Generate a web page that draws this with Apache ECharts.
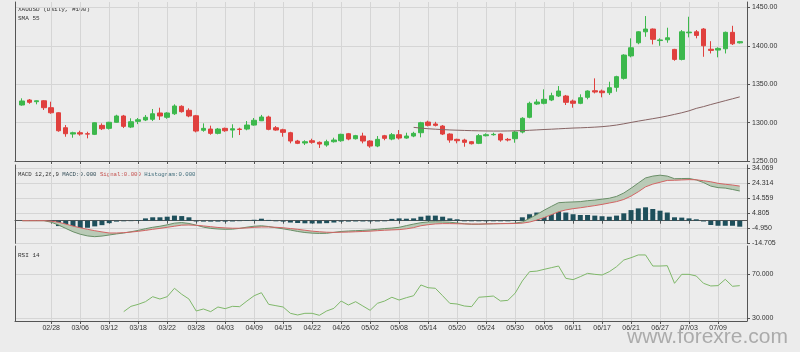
<!DOCTYPE html>
<html>
<head>
<meta charset="utf-8">
<script src="https://cdn.jsdelivr.net/npm/echarts@6/dist/echarts.min.js"></script>
<style>
  html, body { margin: 0; padding: 0; background: #ececec; }
  #chart { width: 800px; height: 352px; }
</style>
</head>
<body>
<div id="chart"></div>
<script>
// trading days, XAUUSD daily
const dates = [
  '02/22','02/25','02/26','02/27','02/28',
  '03/01','03/04','03/05','03/06','03/07','03/08','03/11','03/12','03/13','03/14','03/15',
  '03/18','03/19','03/20','03/21','03/22','03/25','03/26','03/27','03/28','03/29',
  '04/01','04/02','04/03','04/04','04/05','04/08','04/09','04/10','04/11','04/12',
  '04/15','04/16','04/17','04/18','04/22','04/23','04/24','04/25','04/26','04/29','04/30',
  '05/01','05/02','05/03','05/06','05/07','05/08','05/09','05/10','05/13','05/14','05/15',
  '05/16','05/17','05/20','05/21','05/22','05/23','05/24','05/27','05/28','05/29','05/30','05/31',
  '06/03','06/04','06/05','06/06','06/07','06/10','06/11','06/12','06/13','06/14',
  '06/17','06/18','06/19','06/20','06/21','06/24','06/25','06/26','06/27','06/28',
  '07/01','07/02','07/03','07/04','07/05','07/08','07/09','07/10','07/11','07/12'
];

const opens = [
  1322.9, 1329.4, 1327.2, 1328.4, 1319.4, 1312.8, 1293.3, 1285.1, 1286.8, 1285.5,
  1284.7, 1296.4, 1292.5, 1300.4, 1308.6, 1294.2, 1301.6, 1303.4, 1304.3, 1312.5,
  1306.9, 1311.5, 1321.2, 1316.0, 1308.9, 1290.0, 1291.6, 1286.0, 1292.5, 1290.3,
  1291.6, 1291.6, 1296.8, 1302.4, 1307.3, 1293.3, 1290.7, 1286.8, 1276.0, 1273.4,
  1276.4, 1274.3, 1270.8, 1275.1, 1276.4, 1285.5, 1279.0, 1282.5, 1276.0, 1269.5,
  1282.9, 1278.6, 1284.2, 1279.9, 1282.5, 1286.8, 1300.7, 1298.2, 1295.5, 1285.1,
  1278.2, 1277.3, 1275.1, 1273.0, 1282.9, 1284.2, 1285.1, 1278.2, 1279.0, 1287.7,
  1306.9, 1324.2, 1325.1, 1329.4, 1334.6, 1334.6, 1328.1, 1325.1, 1332.9, 1341.5,
  1341.1, 1338.9, 1345.9, 1357.6, 1386.8, 1403.9, 1418.2, 1421.8, 1406.8, 1407.8,
  1395.3, 1382.3, 1416.9, 1418.2, 1421.8, 1395.5, 1394.4, 1396.1, 1417.5, 1403.8
];
const closes = [
  1328.1, 1326.4, 1328.4, 1319.4, 1312.8, 1289.4, 1285.5, 1286.8, 1285.1, 1285.0,
  1299.8, 1292.0, 1300.4, 1308.6, 1295.1, 1301.1, 1303.7, 1306.9, 1311.5, 1308.6,
  1312.5, 1321.6, 1314.2, 1308.6, 1289.0, 1292.5, 1286.0, 1291.6, 1289.4, 1292.0,
  1291.0, 1296.8, 1303.0, 1307.3, 1291.2, 1290.3, 1287.3, 1276.0, 1273.0, 1275.1,
  1274.3, 1272.1, 1275.1, 1277.3, 1284.7, 1278.6, 1283.0, 1276.0, 1269.5, 1278.2,
  1279.5, 1284.2, 1279.9, 1282.5, 1286.0, 1299.8, 1296.4, 1296.4, 1285.1, 1277.3,
  1276.4, 1274.3, 1272.5, 1283.0, 1284.2, 1284.7, 1277.3, 1277.3, 1287.7, 1305.6,
  1325.1, 1326.8, 1330.3, 1335.0, 1341.1, 1326.4, 1325.1, 1332.4, 1341.1, 1339.8,
  1338.9, 1345.4, 1359.8, 1387.9, 1397.4, 1418.2, 1421.8, 1408.4, 1407.6, 1410.4,
  1382.3, 1418.2, 1417.8, 1413.5, 1400.0, 1394.0, 1396.6, 1417.5, 1402.6, 1405.35
];
const lows = [
  1322.0, 1324.5, 1323.8, 1316.4, 1311.5, 1288.1, 1281.6, 1280.3, 1283.0, 1279.5,
  1283.8, 1290.3, 1291.0, 1300.0, 1292.9, 1292.9, 1298.0, 1302.0, 1302.0, 1303.4,
  1305.0, 1310.0, 1313.0, 1307.0, 1287.3, 1288.1, 1284.2, 1284.7, 1288.0, 1280.3,
  1283.8, 1290.0, 1296.0, 1302.0, 1290.0, 1289.4, 1281.6, 1273.0, 1272.0, 1270.8,
  1272.5, 1267.0, 1268.6, 1274.0, 1275.0, 1277.0, 1278.0, 1273.0, 1267.3, 1268.0,
  1277.0, 1277.0, 1278.0, 1279.0, 1281.0, 1280.8, 1295.0, 1295.0, 1283.8, 1273.8,
  1273.0, 1268.6, 1271.5, 1272.0, 1282.0, 1283.0, 1275.1, 1275.5, 1273.8, 1286.0,
  1305.6, 1323.0, 1323.8, 1328.0, 1333.3, 1322.9, 1319.4, 1324.0, 1330.3, 1338.0,
  1332.9, 1336.0, 1340.2, 1356.0, 1385.0, 1402.0, 1411.7, 1401.8, 1400.0, 1404.0,
  1380.5, 1381.0, 1411.0, 1409.7, 1385.7, 1390.0, 1385.0, 1390.0, 1401.0, 1403.0
];
const highs = [
  1331.6, 1330.7, 1329.0, 1329.2, 1327.2, 1313.5, 1296.8, 1288.1, 1289.4, 1288.1,
  1300.3, 1299.0, 1301.0, 1310.2, 1310.0, 1305.6, 1306.0, 1309.9, 1317.7, 1319.4,
  1313.5, 1323.8, 1322.5, 1318.6, 1310.0, 1299.0, 1296.0, 1293.0, 1293.5, 1297.8,
  1293.3, 1302.0, 1306.0, 1310.0, 1309.0, 1295.5, 1292.0, 1288.0, 1277.5, 1277.0,
  1279.0, 1275.5, 1277.7, 1280.3, 1285.5, 1286.5, 1284.0, 1286.8, 1277.0, 1282.5,
  1284.0, 1286.4, 1290.3, 1286.8, 1288.0, 1301.0, 1302.5, 1301.0, 1296.8, 1286.0,
  1279.0, 1279.0, 1276.0, 1285.1, 1286.0, 1286.8, 1286.0, 1280.0, 1289.0, 1307.0,
  1327.2, 1330.3, 1343.3, 1338.9, 1347.6, 1336.0, 1330.0, 1336.8, 1342.0, 1357.6,
  1343.0, 1353.2, 1361.0, 1389.0, 1409.7, 1419.0, 1438.7, 1422.5, 1409.7, 1423.5,
  1396.0, 1420.5, 1437.8, 1420.5, 1423.0, 1406.0, 1398.0, 1418.5, 1426.0, 1406.0
];

// SMA 55, first value on bar 54
const sma55 = [
  '-','-','-','-','-','-','-','-','-','-','-','-','-','-','-','-','-','-','-','-',
  '-','-','-','-','-','-','-','-','-','-','-','-','-','-','-','-','-','-','-','-',
  '-','-','-','-','-','-','-','-','-','-','-','-','-','-',
  1293.8, 1292.8, 1292.0, 1291.4, 1290.9, 1290.4, 1290.1, 1289.8, 1289.5, 1289.3,
  1289.1, 1289.0, 1289.0, 1289.1, 1289.3, 1289.6, 1290.0, 1290.5, 1291.0, 1291.4,
  1291.9, 1292.4, 1292.9, 1293.2, 1293.6, 1294.1, 1294.7, 1295.6, 1296.8, 1298.4,
  1300.2, 1301.9, 1303.5, 1305.1, 1306.7, 1308.6, 1310.7, 1312.8, 1315.3, 1318.5,
  1320.8, 1323.5, 1326.0, 1328.5, 1331.0, 1333.5
];

const macdLine = [
  0, 0, 0, 0, -1.0, -2.8, -5.0, -7.2, -8.8, -9.9,
  -10.4, -10.0, -9.3, -8.6, -8.0, -7.2, -6.3, -5.2, -4.3, -3.6,
  -2.7, -1.6, -1.2, -1.8, -2.9, -4.2, -5.0, -5.4, -5.6, -5.5,
  -5.0, -4.2, -3.6, -3.3, -3.8, -4.6, -5.3, -6.1, -7.0, -7.7,
  -8.1, -8.3, -8.2, -7.6, -7.0, -6.7, -6.5, -6.3, -6.0, -5.6,
  -5.1, -4.8, -4.3, -3.2, -2.2, -1.3, -0.8, -0.7, -0.8, -1.0,
  -1.5, -2.0, -2.3, -2.3, -2.1, -2.0, -1.9, -1.8, -1.6, -0.8,
  1.5, 4.0, 6.8, 9.3, 11.7, 12.0, 12.2, 12.4, 13.0, 13.4,
  14.0, 14.6, 15.8, 18.0, 21.1, 24.5, 27.8, 29.0, 29.6, 29.0,
  27.3, 27.4, 27.5, 26.5, 24.8, 22.5, 21.5, 21.2, 20.3, 19.3
];
const signalLine = [
  0, 0, 0, 0, -0.3, -1.0, -2.2, -3.5, -4.6, -5.6,
  -6.5, -7.3, -8.0, -8.0, -7.8, -7.4, -6.9, -6.3, -5.6, -5.0,
  -4.3, -3.6, -2.9, -2.8, -3.0, -3.4, -3.9, -4.4, -4.7, -4.9,
  -4.9, -4.7, -4.3, -4.1, -4.1, -4.3, -4.6, -5.1, -5.6, -6.2,
  -6.8, -7.2, -7.5, -7.6, -7.5, -7.4, -7.2, -7.0, -6.8, -6.5,
  -6.2, -6.0, -5.8, -5.3, -4.5, -3.3, -2.6, -2.1, -1.9, -1.9,
  -2.0, -2.1, -2.2, -2.2, -2.1, -2.0, -1.9, -1.9, -1.8, -1.6,
  -0.9, 0.4, 2.0, 3.9, 5.8, 7.0, 7.8, 8.4, 9.1, 9.8,
  10.6, 11.5, 12.4, 13.8, 16.0, 18.8, 22.0, 23.8, 25.0, 26.2,
  26.3, 26.5, 26.7, 26.6, 26.0, 25.3, 24.3, 23.7, 23.2, 22.5
];
const histogram = [
  0, 0, 0, 0, -0.8, -3.5, -4.3, -5.0, -5.0, -4.6,
  -3.7, -2.9, -1.6, -0.6, -0.4, -0.3, 0.4, 1.5, 2.2, 2.2,
  2.6, 3.3, 3.0, 2.2, -0.5, -0.6, -0.6, -0.6, -0.6, -0.5,
  -0.3, 0.3, 0.6, 1.3, 0.5, -0.4, -0.6, -1.2, -1.5, -1.7,
  -1.8, -1.8, -1.6, -1.2, -0.6, -0.6, -0.5, -0.5, -0.5, -0.5,
  -0.4, 1.2, 1.5, 1.3, 1.5, 2.6, 3.3, 3.3, 2.6, 1.5,
  0.9, -0.4, -0.4, -0.4, -0.4, -0.4, -0.4, -0.4, 0.4, 2.2,
  4.2, 5.3, 5.9, 6.3, 6.5, 5.3, 4.2, 3.7, 3.7, 3.3,
  2.9, 2.6, 3.3, 4.8, 6.9, 8.0, 8.7, 7.6, 6.5, 5.3,
  2.2, 2.0, 1.5, 0.9, -0.5, -2.8, -3.3, -3.3, -3.3, -3.9
];

// RSI 14, first value on bar 14
const rsi14 = [
  '-','-','-','-','-','-','-','-','-','-','-','-','-','-',
  36.0, 40.8, 42.6, 45.0, 49.5, 47.4, 49.5, 57.1, 51.7, 47.4,
  36.6, 38.4, 36.0, 40.2, 38.7, 40.8, 40.5, 45.6, 50.4, 53.1,
  42.6, 41.4, 40.2, 34.5, 33.0, 34.5, 34.5, 32.7, 36.6, 39.0,
  45.6, 42.0, 45.0, 41.1, 37.2, 43.5, 45.6, 49.0, 46.5, 48.6,
  50.4, 60.1, 57.6, 57.1, 50.4, 43.5, 42.9, 41.1, 40.5, 49.0,
  49.5, 50.1, 45.6, 46.2, 52.6, 63.7, 72.1, 72.6, 74.2, 75.7,
  77.2, 66.1, 64.9, 67.6, 70.6, 69.7, 69.1, 72.1, 76.6, 82.6,
  84.7, 87.2, 87.2, 77.2, 77.2, 77.5, 61.6, 69.7, 69.7, 68.2,
  61.6, 59.2, 59.5, 65.2, 58.9, 59.5
];

const priceTicks = [1250, 1300, 1350, 1400, 1450];
const macdTicks = [-14.705, -4.950, 4.805, 14.559, 24.314, 34.069];
const rsiTicks = [30, 70];
const lastPrice = 1405.35;

// one empty slot each side so bar 0 sits a bar-width in from the frame
const cats = [''].concat(dates, ['']);
const pad = (arr) => ['-'].concat(arr, ['-']);
const isLabelSlot = (k) => {
  const i = k - 1;
  return i >= 4 && i < dates.length && i % 4 === 0;
};

const candles = opens.map((o, i) => [o, closes[i], lows[i], highs[i]]);
const bandBase = macdLine.map((m, i) => Math.min(m, signalLine[i]));
const bandSize = macdLine.map((m, i) => Math.abs(m - signalLine[i]));

const AXIS = '#555';
const GRID_LINE = '#d5d5d5';
const LABEL = { color: '#333', fontSize: 7, fontFamily: 'Liberation Sans' };

function xAxisFor(gridIndex, withLabels) {
  return {
    type: 'category',
    gridIndex,
    data: cats,
    boundaryGap: false,
    axisLine: { lineStyle: { color: AXIS } },
    axisTick: { interval: isLabelSlot, length: 3, lineStyle: { color: AXIS } },
    axisLabel: { show: withLabels, interval: isLabelSlot, margin: 4, ...LABEL },
    splitLine: { show: true, interval: isLabelSlot, lineStyle: { color: GRID_LINE } },
  };
}

function rightAxis(gridIndex, min, max, ticks, digits) {
  return {
    type: 'value',
    gridIndex,
    position: 'right',
    min,
    max,
    axisLine: { show: true, lineStyle: { color: AXIS } },
    axisTick: { show: true, length: 3, customValues: ticks, lineStyle: { color: AXIS } },
    axisLabel: {
      customValues: ticks,
      margin: 5,
      formatter: (v) => v.toFixed(digits),
      ...LABEL,
    },
    splitLine: { show: true, lineStyle: { color: GRID_LINE } },
  };
}

function leftAxis(gridIndex) {
  return {
    type: 'value',
    gridIndex,
    position: 'left',
    axisLine: { show: true, lineStyle: { color: AXIS } },
    axisTick: { show: false },
    axisLabel: { show: false },
    splitLine: { show: false },
  };
}

const chart = echarts.init(document.getElementById('chart'));
chart.setOption({
  backgroundColor: '#ececec',
  animation: false,
  grid: [
    { left: 15, right: 53, top: 2, height: 159 },
    { left: 15, right: 53, top: 165, height: 78.3 },
    { left: 15, right: 53, top: 246, height: 75 },
  ],
  xAxis: [xAxisFor(0, false), xAxisFor(1, false), xAxisFor(2, true)],
  yAxis: [
    rightAxis(0, 1250, 1457, priceTicks, 2),
    leftAxis(0),
    rightAxis(1, -14.705, 36.22, macdTicks, 3),
    leftAxis(1),
    rightAxis(2, 27.56, 95.28, rsiTicks, 3),
    leftAxis(2),
  ],
  graphic: [
    {
      type: 'text', left: 18, top: 5,
      style: { text: 'XAUUSD (Daily, #100)\nSMA 55', fill: '#333', font: '6px "Liberation Mono"', lineHeight: 9 },
    },
    {
      type: 'text', left: 18, top: 171,
      style: {
        text: '{a|MACD 12,26,9 }{b|MACD:0.000 }{c|Signal:0.000 }{d|Histogram:0.000}',
        rich: {
          a: { fill: '#333', font: '5.7px "Liberation Mono"' },
          b: { fill: '#2f4a55', font: '5.7px "Liberation Mono"' },
          c: { fill: '#c4504d', font: '5.7px "Liberation Mono"' },
          d: { fill: '#3d6a78', font: '5.7px "Liberation Mono"' },
        },
      },
    },
    {
      type: 'text', left: 18, top: 252,
      style: { text: 'RSI 14', fill: '#333', font: '6px "Liberation Mono"' },
    },
    {
      type: 'text', left: 627, top: 327,
      style: { text: 'www.forexre.com', fill: '#ababab', font: '21px "Liberation Sans"' },
    },
  ],
  series: [
    {
      name: 'XAUUSD',
      type: 'candlestick',
      xAxisIndex: 0,
      yAxisIndex: 0,
      data: pad(candles),
      barWidth: 5,
      itemStyle: {
        color: '#3cb84c',
        color0: '#e0403e',
        borderColor: '#3cb84c',
        borderColor0: '#e0403e',
        borderWidth: 1,
      },
      markLine: {
        silent: true,
        symbol: ['none', 'none'],
        lineStyle: { opacity: 0 },
        label: {
          show: true,
          position: 'end',
          distance: 4,
          formatter: () => lastPrice.toFixed(2),
          backgroundColor: '#3dcc50',
          color: '#fff',
          fontSize: 7,
          fontFamily: 'Liberation Sans',
          padding: [1, 3],
        },
        data: [{ yAxis: lastPrice }],
      },
    },
    {
      name: 'SMA 55',
      type: 'line',
      xAxisIndex: 0,
      yAxisIndex: 0,
      data: pad(sma55),
      showSymbol: false,
      lineStyle: { color: '#876464', width: 1 },
    },
    {
      name: 'band base',
      type: 'line',
      xAxisIndex: 1,
      yAxisIndex: 2,
      data: pad(bandBase),
      stack: 'band',
      stackStrategy: 'all',
      showSymbol: false,
      lineStyle: { opacity: 0 },
    },
    {
      name: 'band',
      type: 'line',
      xAxisIndex: 1,
      yAxisIndex: 2,
      data: pad(bandSize),
      stack: 'band',
      stackStrategy: 'all',
      showSymbol: false,
      lineStyle: { opacity: 0 },
      areaStyle: { color: '#b9cab6', opacity: 1 },
    },
    {
      name: 'Histogram',
      type: 'bar',
      xAxisIndex: 1,
      yAxisIndex: 2,
      data: pad(histogram),
      barWidth: 5,
      itemStyle: { color: '#1e4f5b' },
    },
    {
      name: 'MACD',
      type: 'line',
      xAxisIndex: 1,
      yAxisIndex: 2,
      data: pad(macdLine),
      showSymbol: false,
      lineStyle: { color: '#6a8f68', width: 1 },
    },
    {
      name: 'Signal',
      type: 'line',
      xAxisIndex: 1,
      yAxisIndex: 2,
      data: pad(signalLine),
      showSymbol: false,
      lineStyle: { color: '#d26464', width: 1 },
    },
    {
      name: 'RSI 14',
      type: 'line',
      xAxisIndex: 2,
      yAxisIndex: 4,
      data: pad(rsi14),
      showSymbol: false,
      lineStyle: { color: '#7fb86a', width: 1 },
    },
  ],
});
</script>
</body>
</html>
